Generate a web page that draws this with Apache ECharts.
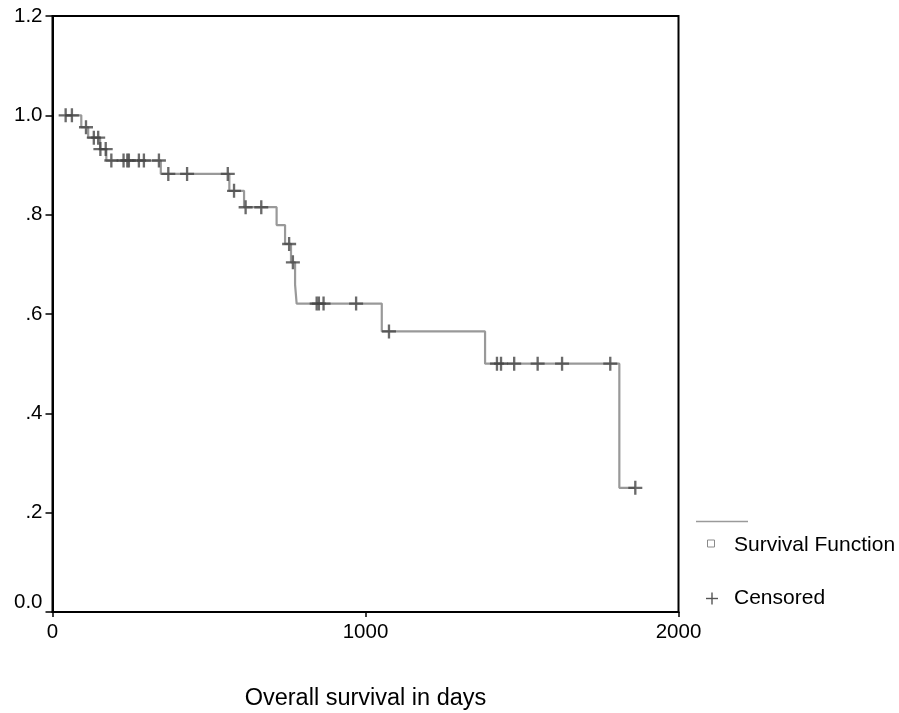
<!DOCTYPE html>
<html>
<head>
<meta charset="utf-8">
<script src="https://cdn.jsdelivr.net/npm/echarts@6/dist/echarts.min.js"></script>
<style>
  html, body { margin: 0; padding: 0; background: #fff; }
  #chart { width: 899px; height: 713px; }
</style>
</head>
<body>
<div id="chart"></div>
<script>
// Kaplan-Meier estimate: the curve starts at the first observation,
// drops at each event time and ends at the last follow-up time.
const startTime = 42;
const startSurvival = 1.0;
const eventTimes    = [92, 114, 152, 172, 346, 565, 612, 716, 743, 762, 775, 780, 1052, 1382, 1811];
const eventSurvival = [0.976, 0.955, 0.932, 0.909, 0.882, 0.848, 0.815, 0.779, 0.741, 0.704, 0.659, 0.621, 0.565, 0.500, 0.250];
const endTime = 1862;

// Censored observations (time, survival level at that time)
const censoredTimes    = [42, 62, 107, 132, 146, 153, 170, 188, 227, 239, 244, 276, 292, 340, 370, 430, 560, 580, 617, 667, 756, 768, 844, 851, 866, 970, 1075, 1420, 1433, 1475, 1550, 1628, 1782, 1862];
const censoredSurvival = [1.0, 1.0, 0.976, 0.955, 0.955, 0.932, 0.932, 0.909, 0.909, 0.909, 0.909, 0.909, 0.909, 0.909, 0.882, 0.882, 0.882, 0.848, 0.815, 0.815, 0.741, 0.704, 0.621, 0.621, 0.621, 0.621, 0.565, 0.500, 0.500, 0.500, 0.500, 0.500, 0.500, 0.250];

const yTickLabels = ['0.0', '.2', '.4', '.6', '.8', '1.0', '1.2'];
const xTickLabels = ['0', '1000', '2000'];

const curveData = [[startTime, startSurvival]];
eventTimes.forEach((t, i) => curveData.push([t, eventSurvival[i]]));
curveData.push([endTime, eventSurvival[eventSurvival.length - 1]]);

const censoredData = censoredTimes.map((t, i) => [t, censoredSurvival[i]]);

const FONT = '"Liberation Sans", Arial, sans-serif';
const PLUS = 'path://M0,5H12V7H0Z M5,0H7V12H5Z';

const chart = echarts.init(document.getElementById('chart'), null, { renderer: 'canvas' });

chart.setOption({
  animation: false,
  backgroundColor: '#fff',
  grid: {
    left: 52.5, right: 220.5, top: 16, bottom: 101,
    show: true, borderColor: '#000', borderWidth: 2,
    containLabel: false,
    outerBoundsMode: 'none'
  },
  xAxis: {
    type: 'value', min: 0, max: 2000, interval: 1000,
    name: 'Overall survival in days',
    nameLocation: 'middle', nameGap: 75,
    nameTextStyle: { fontFamily: FONT, fontSize: 23.5, color: '#000' },
    axisLine: { show: true, onZero: false, lineStyle: { color: '#000', width: 2 } },
    axisTick: { show: true, inside: false, length: 5, lineStyle: { color: '#000', width: 1.5 } },
    axisLabel: {
      margin: 10, fontFamily: FONT, fontSize: 20.5, color: '#000',
      formatter: v => xTickLabels[Math.round(v / 1000)]
    },
    splitLine: { show: false }
  },
  yAxis: {
    type: 'value', min: 0, max: 1.2, interval: 0.2,
    axisLine: { show: true, lineStyle: { color: '#000', width: 2 } },
    axisTick: { show: true, inside: false, length: 7, lineStyle: { color: '#000', width: 1.5 } },
    axisLabel: {
      margin: 10, fontFamily: FONT, fontSize: 20.5, color: '#000',
      formatter: v => {
        const idx = Math.round(v / 0.2);
        return idx === 0 ? '{z|' + yTickLabels[0] + '}' : yTickLabels[idx];
      },
      rich: { z: { fontFamily: FONT, fontSize: 20.5, color: '#000', padding: [0, 0, 20, 0] } }
    },
    splitLine: { show: false }
  },
  series: [
    {
      name: 'Survival Function',
      type: 'line',
      step: 'end',
      data: curveData,
      showSymbol: false,
      symbol: 'none',
      lineStyle: { color: '#999999', width: 2.2 },
      z: 2
    },
    {
      name: 'Censored',
      type: 'scatter',
      data: censoredData,
      symbol: PLUS,
      symbolSize: 14,
      itemStyle: { color: '#454545' },
      z: 3
    }
  ],
  graphic: [
    { type: 'line', shape: { x1: 696, y1: 521.5, x2: 748, y2: 521.5 },
      style: { stroke: '#9a9a9a', lineWidth: 1.5 } },
    { type: 'rect', shape: { x: 707.5, y: 540, width: 7, height: 7 },
      style: { fill: 'none', stroke: '#8a8a8a', lineWidth: 1 } },
    { type: 'text', left: 734, top: 535,
      style: { text: 'Survival Function', fontFamily: FONT, fontSize: 21, fill: '#000' } },
    { type: 'line', shape: { x1: 706, y1: 598.5, x2: 718, y2: 598.5 },
      style: { stroke: '#555', lineWidth: 1.4 } },
    { type: 'line', shape: { x1: 712, y1: 592.5, x2: 712, y2: 604.5 },
      style: { stroke: '#555', lineWidth: 1.4 } },
    { type: 'text', left: 734, top: 588,
      style: { text: 'Censored', fontFamily: FONT, fontSize: 21, fill: '#000' } }
  ]
});
</script>
</body>
</html>
